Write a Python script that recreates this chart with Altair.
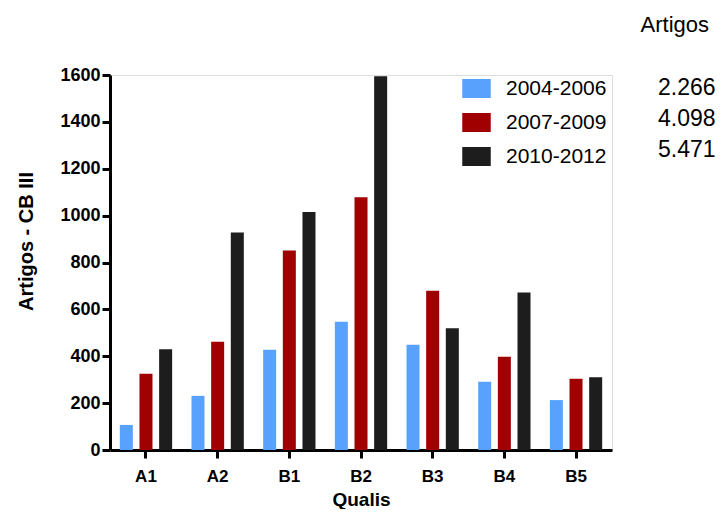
import altair as alt
import pandas as pd

qualis = ["A1", "A2", "B1", "B2", "B3", "B4", "B5"]
periodos = ["2004-2006", "2007-2009", "2010-2012"]
v_2004_2006 = [107, 231, 428, 547, 449, 291, 213]
v_2007_2009 = [325, 462, 851, 1078, 680, 398, 304]
v_2010_2012 = [430, 928, 1015, 1595, 520, 672, 310]
totais = ["2.266", "4.098", "5.471"]
cores = ["#58a2fd", "#a00000", "#1d1d1d"]

rows = []
for per, vals in zip(periodos, [v_2004_2006, v_2007_2009, v_2010_2012]):
    for q, v in zip(qualis, vals):
        rows.append({"Qualis": q, "Periodo": per, "Artigos": v})
df = pd.DataFrame(rows)
df_tot = pd.DataFrame({"Periodo": periodos, "Total": totais})
df_head = pd.DataFrame({"t": ["Artigos"]})

FONT = "Liberation Sans"

bars = alt.Chart(df).mark_bar().encode(
    x=alt.X("Qualis:N", sort=qualis,
            scale=alt.Scale(paddingInner=0.27, paddingOuter=0.137),
            axis=alt.Axis(title="Qualis", labelAngle=0, labelFont=FONT, labelFontWeight="bold",
                          labelFontSize=17, labelColor="black", labelPadding=10,
                          domainColor="black", domainWidth=3, tickColor="black", tickWidth=3,
                          tickSize=8, titleFont=FONT, titleFontWeight="bold", titleFontSize=19,
                          titleColor="black", titleY=55, titleBaseline="alphabetic")),
    xOffset=alt.XOffset("Periodo:N", sort=periodos,
                        scale=alt.Scale(paddingInner=0.338, paddingOuter=0)),
    y=alt.Y("Artigos:Q", scale=alt.Scale(domain=[0, 1600], nice=False),
            axis=alt.Axis(title="Artigos - CB III", values=list(range(0, 1601, 200)), grid=False,
                          format="d",
                          labelFont=FONT, labelFontWeight="bold", labelFontSize=18,
                          labelColor="black", labelPadding=2, domainColor="black", domainWidth=3,
                          tickColor="black", tickWidth=3, tickSize=8, titleFont=FONT,
                          titleFontWeight="bold", titleFontSize=20, titleColor="black",
                          titleAngle=270, titleX=-84, titleY=166, titleAlign="center",
                          titleBaseline="middle")),
    color=alt.Color("Periodo:N", sort=periodos,
                    scale=alt.Scale(domain=periodos, range=cores),
                    legend=alt.Legend(title=None, orient="none", legendX=356, legendY=3,
                                      symbolType="M-1.5,-1H1.5V1H-1.5Z", symbolSize=361,
                                      symbolStrokeWidth=0, symbolOpacity=1,
                                      labelFont=FONT, labelFontSize=21, labelColor="black",
                                      labelOffset=19, rowPadding=12, padding=0)),
)

tot = alt.Chart(df_tot).mark_text(align="left", baseline="middle", font=FONT,
                                  fontSize=23, color="black").encode(
    x=alt.value(548),
    y=alt.Y("Periodo:N", sort=periodos,
            scale=alt.Scale(type="point", domain=periodos, range=[12.5, 75], padding=0),
            axis=None),
    text="Total:N",
)

head = alt.Chart(df_head).mark_text(align="right", baseline="middle", font=FONT,
                                    fontSize=22, color="black").encode(
    x=alt.value(599), y=alt.value(-50), text="t:N",
)

chart = alt.layer(bars, tot, head).resolve_scale(y="independent").properties(
    width=502, height=375,
    autosize=alt.AutoSizeParams(type="none"),
    padding={"left": 102, "top": 67, "right": 106, "bottom": 59},
).configure_view(stroke=None).configure(background="white")

chart.save("out.html", embed_options={"renderer": "svg", "actions": False})
